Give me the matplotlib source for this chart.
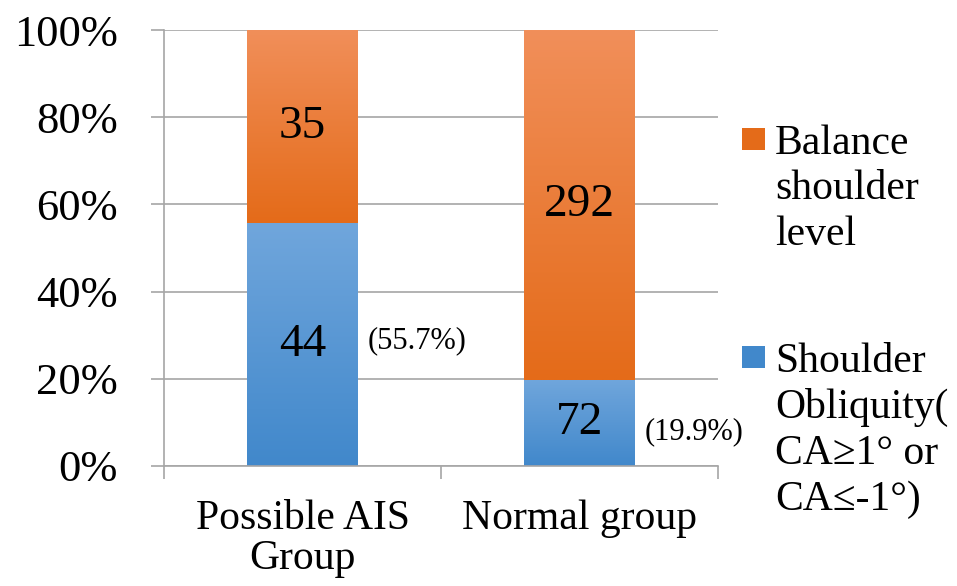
import numpy as np
import matplotlib
matplotlib.use('Agg')
import matplotlib.pyplot as plt
from matplotlib.colors import to_rgb
from matplotlib.patches import Rectangle

plt.rcParams['font.family'] = ['Liberation Serif', 'DejaVu Serif']

# data
groups = ['Possible AIS\nGroup', 'Normal group']
obliquity = [44, 72]
balance = [35, 292]
pct_labels = ['(55.7%)', '(19.9%)']
pct_pos = [28.7, 7.8]
legend_labels = ['Balance\nshoulder\nlevel', 'Shoulder\nObliquity(\nCA\u22651\u00b0 or\nCA\u2264-1\u00b0)']

# colours (top, bottom) of the gradient fill
blue_grad = ('#70A6DC', '#4188CB')
orange_grad = ('#F18F5A', '#E46B19')
grid_col = '#A6A6A6'

tot = np.array(obliquity) + np.array(balance)
obl_pct = np.array(obliquity) / tot * 100
bal_pct = np.array(balance) / tot * 100
x = np.arange(len(groups))
width = 0.4


def gradient_fill(ax, bars, colors):
    top, bot = np.array(to_rgb(colors[0])), np.array(to_rgb(colors[1]))
    t = np.linspace(0, 1, 256)[:, None, None]
    img = top * (1 - t) + bot * t
    for b in bars:
        x0, y0 = b.get_x(), b.get_y()
        im = ax.imshow(img, extent=[x0, x0 + b.get_width(), y0, y0 + b.get_height()],
                       aspect='auto', zorder=2, interpolation='bilinear')
        im.set_clip_path(b)


fig = plt.figure(figsize=(9.57, 5.86), dpi=100)
ax = fig.add_axes([0.1714, 0.2048, 0.5789, 0.744])

b1 = ax.bar(x, obl_pct, width, color='none', edgecolor='none', zorder=2)
b2 = ax.bar(x, bal_pct, width, bottom=obl_pct, color='none', edgecolor='none', zorder=2)
gradient_fill(ax, b1, blue_grad)
gradient_fill(ax, b2, orange_grad)

# value labels inside the bars
for i in range(len(groups)):
    ax.text(x[i], obl_pct[i] / 2, str(obliquity[i]), ha='center', va='center',
            fontsize=34, zorder=3)
    ax.text(x[i], obl_pct[i] + bal_pct[i] / 2, str(balance[i]), ha='center', va='center',
            fontsize=34, zorder=3)
    ax.text(x[i] + width / 2 + 0.035, pct_pos[i], pct_labels[i], ha='left', va='center',
            fontsize=22, zorder=3)

ax.set_xlim(-0.5, len(groups) - 0.5)
ax.set_ylim(0, 100)
ax.set_yticks(np.arange(0, 101, 20))
ax.set_yticklabels([f'{v}%' for v in range(0, 101, 20)], fontsize=32)
ax.yaxis.grid(True, color=grid_col, lw=1.2, zorder=0)
ax.set_axisbelow(True)

ax.set_xticks(x)
ax.set_xticklabels(groups, fontsize=30, linespacing=1.05)
ax.set_xticks(np.arange(-0.5, len(groups), 1.0), minor=True)
ax.tick_params(axis='x', which='major', length=0, pad=24)
ax.tick_params(axis='x', which='minor', length=9, width=1.2, color=grid_col, direction='out')
ax.tick_params(axis='y', length=9.5, width=1.2, color=grid_col, direction='out', pad=24)

for s in ['top', 'right']:
    ax.spines[s].set_visible(False)
for s in ['left', 'bottom']:
    ax.spines[s].set_color(grid_col)
    ax.spines[s].set_linewidth(1.2)

# legend drawn by hand so the marker sits next to the first line
W, H = 957, 586
leg = [(orange_grad, legend_labels[0], 128), (blue_grad, legend_labels[1], 346)]
for cols, lab, ytop in leg:
    sq = Rectangle((742 / W, 1 - (ytop + 22) / H), 23 / W, 22 / H, transform=fig.transFigure,
                   facecolor=cols[1], edgecolor='none')
    fig.patches.append(sq)
    fig.text(775 / W, 1 - (ytop - 4) / H, lab, ha='left', va='top', fontsize=30,
             linespacing=1.25)

fig.savefig('out.png', dpi=100)
